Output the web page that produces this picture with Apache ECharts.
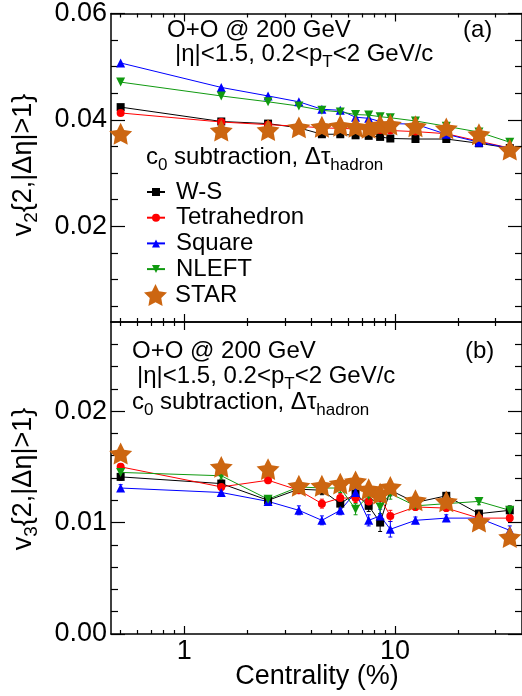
<!DOCTYPE html>
<html><head><meta charset="utf-8">
<script src="https://cdn.jsdelivr.net/npm/echarts@6/dist/echarts.min.js"></script>
<style>html,body{margin:0;padding:0;background:#fff}#c{width:522px;height:696px}</style>
</head><body><div id="c"></div>
<script>
// ---------------- data ----------------
const centrality = [0.5, 1.5, 2.5, 3.5, 4.5, 5.5, 6.5, 7.5, 8.5, 9.5, 12.5, 17.5, 25, 35];

const v2_WS     = [0.0424, 0.0397, 0.0393, 0.0385, 0.0373, 0.0373, 0.0371, 0.0370, 0.0368, 0.0365, 0.0364, 0.0364, 0.0356, 0.0347];
const v2_Tetra  = [0.0413, 0.0396, 0.0391, 0.0388, 0.0385, 0.0384, 0.0383, 0.0382, 0.0381, 0.0380, 0.0378, 0.0374, 0.0360, 0.0347];
const v2_Square = [0.0507, 0.0461, 0.0445, 0.0434, 0.0420, 0.0418, 0.0405, 0.0403, 0.0397, 0.0393, 0.0392, 0.0373, 0.0358, 0.0347];
const v2_NLEFT  = [0.0471, 0.0445, 0.0434, 0.0426, 0.0418, 0.0415, 0.0410, 0.0409, 0.0406, 0.0404, 0.0398, 0.0388, 0.0377, 0.0358];
const v2_STAR   = [0.0374, 0.0380, 0.0381, 0.0386, 0.0387, 0.0389, 0.0387, 0.0385, 0.0390, 0.0391, 0.0388, 0.0384, 0.0373, 0.0344];

const v3_WS     = [0.0141, 0.0135, 0.0120, 0.0130, 0.0129, 0.0117, 0.0126, 0.0115, 0.0100, 0.0129, 0.0118, 0.0124, 0.0108, 0.0111];
const v3_Tetra  = [0.0150, 0.0132, 0.0138, 0.0129, 0.0117, 0.0122, 0.0122, 0.0119, 0.0122, 0.0106, 0.0114, 0.0113, 0.0104, 0.0104];
const v3_Square = [0.0131, 0.0127, 0.0119, 0.0111, 0.0102, 0.0111, 0.0127, 0.0102, 0.0106, 0.0094, 0.0102, 0.0104, 0.0104, 0.0093];
const v3_NLEFT  = [0.0145, 0.0142, 0.0121, 0.0132, 0.0131, 0.0131, 0.0112, 0.0124, 0.0114, 0.0126, 0.0115, 0.0117, 0.0119, 0.0111];
const v3_STAR   = [0.0162, 0.0150, 0.0148, 0.0133, 0.0133, 0.0135, 0.0137, 0.0130, 0.0126, 0.0132, 0.0120, 0.0119, 0.0101, 0.0087];

const v3err_WS     = [0.0003, 0.0003, 0.0003, 0.0003, 0.0004, 0.0004, 0.0004, 0.0005, 0.0008, 0.0005, 0.0003, 0.0003, 0.0003, 0.0004];
const v3err_Tetra  = [0.0003, 0.0003, 0.0003, 0.0003, 0.0004, 0.0004, 0.0004, 0.0005, 0.0006, 0.0005, 0.0003, 0.0003, 0.0003, 0.0003];
const v3err_Square = [0.0003, 0.0003, 0.0003, 0.0004, 0.0004, 0.0004, 0.0005, 0.0005, 0.0006, 0.0007, 0.0003, 0.0003, 0.0003, 0.0004];
const v3err_NLEFT  = [0.0003, 0.0003, 0.0003, 0.0003, 0.0004, 0.0004, 0.0005, 0.0005, 0.0006, 0.0005, 0.0003, 0.0003, 0.0003, 0.0003];

const xMajorTicks = [1, 10];
const xMinorTicks = [0.5, 0.6, 0.7, 0.8, 0.9, 2, 3, 4, 5, 6, 7, 8, 9, 20, 30];
const v2MajorTicks = [0.02, 0.04, 0.06];
const v2MinorTicks = [0.005, 0.01, 0.015, 0.025, 0.03, 0.035, 0.045, 0.05, 0.055];
const v3MajorTicks = [0, 0.01, 0.02];
const v3MinorTicks = [0.002, 0.004, 0.006, 0.008, 0.012, 0.014, 0.016, 0.018, 0.022, 0.024, 0.026];

const seriesNames = ['W-S', 'Tetrahedron', 'Square', 'NLEFT', 'STAR'];

// ---------------- style ----------------
const FONT = '"Liberation Sans", Arial, Helvetica, sans-serif';
const COLORS = {'W-S': '#000000', 'Tetrahedron': '#ff0000', 'Square': '#0000ff', 'NLEFT': '#109a10', 'STAR': '#cc6611'};
const STAR_PATH = 'path://M50,0L64.7,29.8L97.55,34.55L73.8,57.7L79.39,90.45L50,75L20.61,90.45L26.2,57.7L2.45,34.55L35.3,29.8Z';
const SYMBOLS = {
  'W-S': {symbol: 'rect', symbolSize: 8, symbolRotate: 0},
  'Tetrahedron': {symbol: 'circle', symbolSize: 8, symbolRotate: 0},
  'Square': {symbol: 'triangle', symbolSize: 9, symbolRotate: 0},
  'NLEFT': {symbol: 'triangle', symbolSize: 9, symbolRotate: 180}
};
const X_MIN = 0.45, X_MAX = 40;

function xAx(grid, pos, ticks, len, labels, line) {
  return {
    type: 'log', logBase: 10, gridIndex: grid, position: pos, min: X_MIN, max: X_MAX,
    axisLine: {show: line, onZero: false, lineStyle: {color: '#000', width: 1.5}},
    axisTick: {show: true, inside: true, length: len, customValues: ticks, lineStyle: {color: '#000', width: 1.2}},
    axisLabel: labels ? {show: true, customValues: labels, margin: 4, color: '#000', fontSize: 27, fontFamily: FONT,
      formatter: v => String(Math.round(v))} : {show: false},
    splitLine: {show: false}, minorTick: {show: false}, minorSplitLine: {show: false}
  };
}
function yAx(grid, pos, min, max, ticks, len, labels, line) {
  return {
    type: 'value', gridIndex: grid, position: pos, min: min, max: max,
    axisLine: {show: line, onZero: false, lineStyle: {color: '#000', width: 1.5}},
    axisTick: {show: true, inside: true, length: len, customValues: ticks, lineStyle: {color: '#000', width: 1.2}},
    axisLabel: labels ? {show: true, customValues: labels, margin: 4, color: '#000', fontSize: 27, fontFamily: FONT,
      formatter: v => v.toFixed(2)} : {show: false},
    splitLine: {show: false}, minorTick: {show: false}, minorSplitLine: {show: false}
  };
}

const xAxes = [
  xAx(0, 'bottom', xMajorTicks, 8, null, true),
  xAx(0, 'bottom', xMinorTicks, 4, null, false),
  xAx(0, 'top', xMajorTicks, 8, null, true),
  xAx(0, 'top', xMinorTicks, 4, null, false),
  xAx(1, 'bottom', xMajorTicks, 8, xMajorTicks, true),
  xAx(1, 'bottom', xMinorTicks, 4, null, false),
  xAx(1, 'top', xMajorTicks, 8, null, true),
  xAx(1, 'top', xMinorTicks, 4, null, false)
];
const yAxes = [
  yAx(0, 'left', 0.002, 0.06, v2MajorTicks, 14, v2MajorTicks, true),
  yAx(0, 'left', 0.002, 0.06, v2MinorTicks, 7, null, false),
  yAx(0, 'right', 0.002, 0.06, v2MajorTicks, 14, null, true),
  yAx(0, 'right', 0.002, 0.06, v2MinorTicks, 7, null, false),
  yAx(1, 'left', 0, 0.028, v3MajorTicks, 14, v3MajorTicks, true),
  yAx(1, 'left', 0, 0.028, v3MinorTicks, 7, null, false),
  yAx(1, 'right', 0, 0.028, v3MajorTicks, 14, null, true),
  yAx(1, 'right', 0, 0.028, v3MinorTicks, 7, null, false)
];

function pairs(vals) { return centrality.map((c, i) => [c, vals[i]]); }

function lineSeries(name, vals, axIdx) {
  const s = SYMBOLS[name];
  return {
    type: 'line', name: name, xAxisIndex: axIdx, yAxisIndex: axIdx, data: pairs(vals),
    symbol: s.symbol, symbolSize: s.symbolSize, symbolRotate: s.symbolRotate, showAllSymbol: true,
    lineStyle: {color: COLORS[name], width: 1}, itemStyle: {color: COLORS[name]},
    emphasis: {disabled: true}, animation: false, z: 3
  };
}
function starSeries(vals, axIdx) {
  return {
    type: 'scatter', name: 'STAR', xAxisIndex: axIdx, yAxisIndex: axIdx, data: pairs(vals),
    symbol: STAR_PATH, symbolSize: 23, symbolKeepAspect: true,
    itemStyle: {color: COLORS['STAR'], opacity: 1}, emphasis: {disabled: true}, animation: false, z: 4
  };
}
function errSeries(name, vals, errs, axIdx) {
  return {
    type: 'custom', name: name + ' (stat.)', xAxisIndex: axIdx, yAxisIndex: axIdx,
    data: centrality.map((c, i) => [c, vals[i] - errs[i], vals[i] + errs[i]]),
    encode: {x: 0, y: [1, 2]}, z: 2, animation: false, silent: true,
    renderItem: function (params, api) {
      const lo = api.coord([api.value(0), api.value(1)]);
      const hi = api.coord([api.value(0), api.value(2)]);
      const st = {stroke: COLORS[name], lineWidth: 1};
      return {type: 'group', children: [
        {type: 'line', shape: {x1: lo[0], y1: lo[1], x2: hi[0], y2: hi[1]}, style: st},
        {type: 'line', shape: {x1: lo[0] - 2, y1: lo[1], x2: lo[0] + 2, y2: lo[1]}, style: st},
        {type: 'line', shape: {x1: hi[0] - 2, y1: hi[1], x2: hi[0] + 2, y2: hi[1]}, style: st}
      ]};
    }
  };
}

const series = [
  lineSeries('W-S', v2_WS, 0),
  lineSeries('Tetrahedron', v2_Tetra, 0),
  lineSeries('Square', v2_Square, 0),
  lineSeries('NLEFT', v2_NLEFT, 0),
  starSeries(v2_STAR, 0),
  errSeries('W-S', v3_WS, v3err_WS, 4),
  errSeries('Tetrahedron', v3_Tetra, v3err_Tetra, 4),
  errSeries('Square', v3_Square, v3err_Square, 4),
  errSeries('NLEFT', v3_NLEFT, v3err_NLEFT, 4),
  lineSeries('W-S', v3_WS, 4),
  lineSeries('Tetrahedron', v3_Tetra, 4),
  lineSeries('Square', v3_Square, 4),
  lineSeries('NLEFT', v3_NLEFT, 4),
  starSeries(v3_STAR, 4)
];

const T = 24;
const richSub = {
  sub: {fontSize: 17, fontFamily: FONT, fill: '#000', padding: [17, 0, 0, 0]},
  r: {fontSize: T, fontFamily: FONT, fill: '#000'}
};
function txt(x, y, text) {
  return {type: 'text', x: x, y: y, silent: true, z: 10,
    style: {text: text, fontSize: T, fontFamily: FONT, fill: '#000', align: 'left', verticalAlign: 'middle', rich: richSub}};
}
function ytitle(y, n) {
  return {type: 'text', x: 24, y: y, rotation: Math.PI / 2, silent: true, z: 10,
    style: {text: '{m|v}{s|' + n + '}{m|\u007b2,|\u0394\u03b7|>1\u007d}', fontSize: 27, fontFamily: FONT, fill: '#000',
      align: 'center', verticalAlign: 'middle',
      rich: {m: {fontSize: 27, fontFamily: FONT, fill: '#000'}, s: {fontSize: 19, fontFamily: FONT, fill: '#000', padding: [16, 0, 0, 0]}}}};
}

const option = {
  backgroundColor: '#fff',
  animation: false,
  textStyle: {fontFamily: FONT},
  grid: [
    {left: 111, top: 6, width: 415.7, height: 316, containLabel: false},
    {left: 111, top: 322, width: 415.7, height: 312, containLabel: false}
  ],
  xAxis: xAxes,
  yAxis: yAxes,
  legend: [
    {data: ['W-S', 'Tetrahedron', 'Square', 'NLEFT'], orient: 'vertical', left: 146, top: 180,
      itemWidth: 18, itemHeight: 10, itemGap: 1.7, selectedMode: false, padding: 0,
      textStyle: {fontSize: T, color: '#000', fontFamily: FONT, padding: [0, 0, 0, 6]}},
    {data: ['STAR'], orient: 'vertical', left: 144, top: 283, itemWidth: 23, itemHeight: 23,
      selectedMode: false, padding: 0,
      textStyle: {fontSize: T, color: '#000', fontFamily: FONT, padding: [0, 0, 0, 3]}}
  ],
  graphic: [
    txt(167, 30, 'O+O @ 200 GeV'),
    txt(463, 30, '(a)'),
    txt(175, 54, '|\u03b7|<1.5, 0.2<p{sub|T}<2 GeV/c'),
    txt(146, 157, 'c{sub|0} subtraction, \u0394\u03c4{sub|hadron}'),
    txt(132, 351, 'O+O @ 200 GeV'),
    txt(465, 351, '(b)'),
    txt(137, 376, '|\u03b7|<1.5, 0.2<p{sub|T}<2 GeV/c'),
    txt(132, 402, 'c{sub|0} subtraction, \u0394\u03c4{sub|hadron}'),
    ytitle(165, '2'),
    ytitle(479, '3'),
    {type: 'text', x: 317, y: 677, silent: true,
      style: {text: 'Centrality (%)', fontSize: 27, fontFamily: FONT, fill: '#000', align: 'center', verticalAlign: 'middle'}}
  ],
  series: series
};

const chart = echarts.init(document.getElementById('c'), null, {renderer: 'canvas'});
chart.setOption(option);
</script>
</body></html>
